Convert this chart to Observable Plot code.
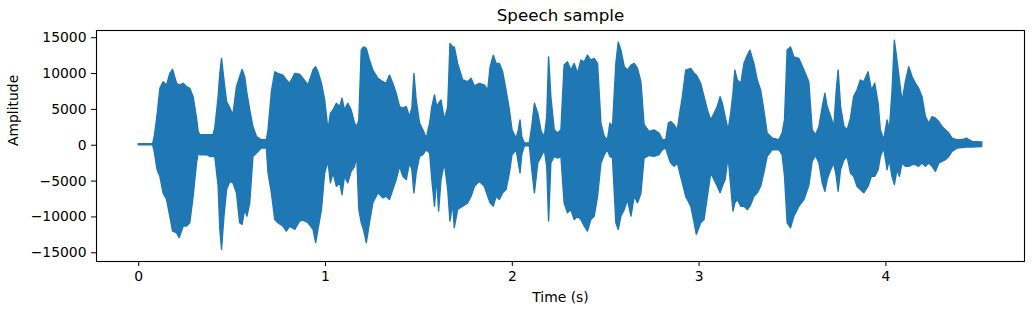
<!DOCTYPE html>
<html>
<head>
<meta charset="utf-8">
<script src="https://cdn.jsdelivr.net/npm/d3@7"></script>
<script src="https://cdn.jsdelivr.net/npm/@observablehq/plot@0.6"></script>
<style>
  html, body { margin: 0; padding: 0; background: #ffffff; }
</style>
</head>
<body>
<div id="chart"></div>
<script>
// Envelope of the speech waveform (seconds, amplitude)
const time = [
  0.000, 0.077, 0.086, 0.101, 0.116, 0.133, 0.152, 0.169, 0.184, 0.205,
  0.219, 0.241, 0.259, 0.276, 0.294, 0.312, 0.321, 0.330, 0.368, 0.384,
  0.400, 0.410, 0.428, 0.437, 0.446, 0.459, 0.473, 0.491, 0.507, 0.526,
  0.543, 0.556, 0.570, 0.582, 0.597, 0.614, 0.633, 0.659, 0.686, 0.695,
  0.713, 0.731, 0.748, 0.775, 0.793, 0.811, 0.838, 0.864, 0.882, 0.909,
  0.936, 0.950, 0.962, 0.981, 0.998, 1.016, 1.029, 1.043, 1.061, 1.079,
  1.091, 1.104, 1.122, 1.140, 1.158, 1.170, 1.181, 1.194, 1.206, 1.221,
  1.238, 1.256, 1.283, 1.310, 1.328, 1.345, 1.363, 1.381, 1.399, 1.417,
  1.435, 1.452, 1.465, 1.476, 1.488, 1.506, 1.524, 1.542, 1.560, 1.572,
  1.586, 1.598, 1.608, 1.621, 1.639, 1.657, 1.669, 1.683, 1.692, 1.710,
  1.737, 1.764, 1.782, 1.800, 1.826, 1.853, 1.871, 1.884, 1.901, 1.916,
  1.933, 1.951, 1.969, 1.987, 2.001, 2.023, 2.035, 2.044, 2.053, 2.067,
  2.094, 2.109, 2.121, 2.139, 2.157, 2.174, 2.187, 2.197, 2.209, 2.227,
  2.245, 2.263, 2.280, 2.298, 2.316, 2.334, 2.352, 2.370, 2.388, 2.405,
  2.423, 2.441, 2.459, 2.477, 2.495, 2.512, 2.525, 2.539, 2.557, 2.570,
  2.584, 2.602, 2.619, 2.638, 2.655, 2.673, 2.691, 2.708, 2.735, 2.761,
  2.788, 2.806, 2.824, 2.838, 2.851, 2.869, 2.886, 2.899, 2.913, 2.931,
  2.958, 2.976, 2.988, 3.011, 3.029, 3.047, 3.065, 3.083, 3.100, 3.115,
  3.127, 3.142, 3.158, 3.172, 3.184, 3.194, 3.207, 3.226, 3.243, 3.261,
  3.275, 3.296, 3.314, 3.332, 3.349, 3.367, 3.394, 3.430, 3.447, 3.460,
  3.474, 3.492, 3.510, 3.537, 3.564, 3.590, 3.608, 3.626, 3.644, 3.662,
  3.676, 3.688, 3.707, 3.724, 3.737, 3.747, 3.760, 3.778, 3.795, 3.813,
  3.830, 3.848, 3.866, 3.884, 3.907, 3.925, 3.943, 3.961, 3.973, 3.991,
  4.009, 4.021, 4.035, 4.048, 4.062, 4.075, 4.089, 4.107, 4.125, 4.143,
  4.161, 4.178, 4.196, 4.214, 4.232, 4.250, 4.268, 4.286, 4.303, 4.321,
  4.339, 4.357, 4.384, 4.409, 4.433, 4.463, 4.516
];
const upper = [
  150, 150, 1150, 4170, 7880, 8790, 8330, 9960, 10510, 8570,
  8330, 8570, 8100, 7880, 6710, 3710, 1850, 1390, 1390, 1390,
  1390, 2320, 6710, 9960, 12040, 9030, 6010, 5100, 4170, 8100,
  9490, 10510, 9490, 7180, 4860, 2540, 1150, 690, 690, 2080,
  7400, 10180, 9960, 9720, 9030, 8570, 9960, 9850, 9260, 8330,
  10420, 10880, 10180, 8570, 6250, 2080, 4400, 4860, 5790, 5320,
  6490, 4860, 5790, 4860, 3010, 2540, 3470, 13200, 13650, 13430,
  11810, 10420, 9260, 8790, 8570, 9720, 8570, 7180, 5320, 5100,
  5320, 3930, 5100, 9960, 6250, 3010, 2080, 930, 3010, 5320,
  6950, 5320, 5790, 6250, 3470, 5320, 14130, 13650, 13650, 11350,
  9030, 8790, 9260, 8200, 8570, 8330, 7640, 10880, 12500, 11350,
  11350, 10180, 7640, 4860, 2080, 930, 2080, 3470, 1150, 240,
  240, 3010, 5790, 4400, 1850, 1150, 3930, 12260, 6710, 2080,
  1630, 2080, 11110, 11570, 10420, 11350, 9960, 11810, 11570, 12500,
  11810, 12040, 11350, 3010, 1150, 690, 3010, 2540, 11350, 14350,
  13200, 10880, 10420, 11110, 11350, 10650, 8800, 2800, 1850, 2080,
  1630, 690, 690, 3010, 3240, 2780, 2080, 4400, 6710, 10420,
  10650, 9960, 9720, 8570, 6710, 4860, 3470, 4400, 5320, 6710,
  5790, 3930, 2080, 4400, 7180, 10420, 9030, 8570, 11350, 12500,
  13200, 11350, 9030, 7640, 4860, 1630, 930, 690, 1630, 3470,
  13200, 13650, 12260, 12040, 10420, 8790, 2080, 1400, 2500, 5320,
  7180, 5320, 3930, 2540, 7640, 10420, 5320, 2540, 2080, 3710,
  6710, 7640, 9030, 8790, 10180, 7640, 8570, 5790, 2080, 690,
  3470, 2080, 7180, 14580, 11810, 9030, 6010, 8790, 10880, 9490,
  8570, 7880, 6710, 3930, 3010, 3930, 3710, 3240, 2540, 2080,
  1630, 930, 690, 690, 930, 460, 380
];
const lower = [
  0, 0, -930, -3470, -4400, -6710, -7640, -9960, -12040, -12260,
  -12960, -11350, -11350, -10880, -7180, -2540, -1150, -1390, -1390, -1630,
  -1630, -1630, -5790, -11810, -14580, -9960, -6250, -5100, -5320, -6710,
  -10880, -11110, -9030, -9960, -8100, -1630, -1150, -460, -460, -3930,
  -6710, -10420, -10880, -11350, -12040, -11350, -11810, -10650, -10500, -10880,
  -11810, -13650, -11810, -9030, -3930, -2320, -5320, -3930, -5790, -5320,
  -6950, -4400, -5320, -3710, -3010, -1630, -9030, -10880, -11810, -13650,
  -10880, -8100, -6710, -7400, -7180, -7640, -6250, -4860, -3010, -4400,
  -4860, -2540, -3470, -6710, -3930, -1630, -1390, -690, -1150, -4860,
  -8570, -4400, -9260, -4860, -2540, -6250, -10650, -8100, -11570, -9030,
  -8570, -8100, -7180, -5800, -5100, -5790, -7180, -8100, -8570, -7180,
  -7640, -6710, -6250, -3930, -1390, -690, -2540, -3930, -1390, -140,
  -140, -3930, -6710, -2540, -1630, -690, -3010, -10650, -2540, -1630,
  -1850, -1630, -8100, -9490, -9030, -10420, -9960, -10420, -11350, -12040,
  -10420, -9960, -7180, -2540, -1390, -690, -1630, -1850, -10880, -11810,
  -9960, -9030, -7640, -9960, -7180, -8100, -6800, -1850, -1500, -1630,
  -1390, -690, -460, -1630, -2540, -3010, -2540, -3930, -5320, -7180,
  -8570, -10880, -12500, -10880, -10420, -7180, -3930, -4860, -5790, -6710,
  -5790, -4860, -1630, -5790, -9260, -8100, -7640, -8570, -8570, -9030,
  -8570, -7180, -6710, -5790, -3930, -1630, -690, -690, -1390, -4400,
  -10880, -11570, -9960, -8570, -7640, -5700, -2300, -1500, -2500, -5320,
  -6490, -4860, -3470, -2540, -4400, -6490, -3470, -2080, -1630, -3930,
  -4400, -5790, -6250, -6710, -5790, -4400, -4400, -3470, -1630, -460,
  -3470, -2080, -4400, -5560, -3470, -4400, -2540, -3010, -3010, -2780,
  -2780, -3010, -2540, -3010, -2540, -3010, -3710, -2540, -2320, -2080,
  -1630, -930, -460, -380, -320, -320, -240
];

const xTicks = [0, 1, 2, 3, 4];
const yTicks = [-15000, -10000, -5000, 0, 5000, 10000, 15000];
const titleText = "Speech sample";
const xLabel = "Time (s)";
const yLabel = "Amplitude";

const rows = time.map((t, i) => ({t, hi: upper[i], lo: lower[i]}));
const fmtY = d => d < 0 ? "\u2212" + Math.abs(d) : String(d);
const blue = "#1f77b4";

const chart = Plot.plot({
  width: 1035,
  height: 314,
  marginLeft: 96,
  marginRight: 11,
  marginTop: 30,
  marginBottom: 53,
  style: {
    fontFamily: "'DejaVu Sans', sans-serif",
    fontSize: "13.9px",
    background: "white",
    color: "black",
    overflow: "visible"
  },
  x: {domain: [-0.226, 4.742], ticks: xTicks, tickFormat: d => String(d), tickSize: 5, tickPadding: 5, label: null},
  y: {domain: [-16218, 16007], ticks: yTicks, tickFormat: fmtY, tickSize: 5, tickPadding: 5, label: null},
  marks: [
    Plot.areaY(rows, {x: "t", y1: "lo", y2: "hi", fill: blue, stroke: blue, strokeWidth: 1.4, curve: "linear"}),
    Plot.frame({stroke: "black", strokeWidth: 1.1}),
    Plot.text([titleText], {frameAnchor: "top", lineAnchor: "middle", dy: -15, fontSize: 16.7, fill: "black"}),
    Plot.text([xLabel], {frameAnchor: "bottom", lineAnchor: "middle", dy: 36, fontSize: 13.9, fill: "black"}),
    Plot.text([yLabel], {frameAnchor: "left", lineAnchor: "middle", rotate: -90, dx: -83, fontSize: 13.9, fill: "black"})
  ]
});
document.getElementById("chart").appendChild(chart);
</script>
</body>
</html>
